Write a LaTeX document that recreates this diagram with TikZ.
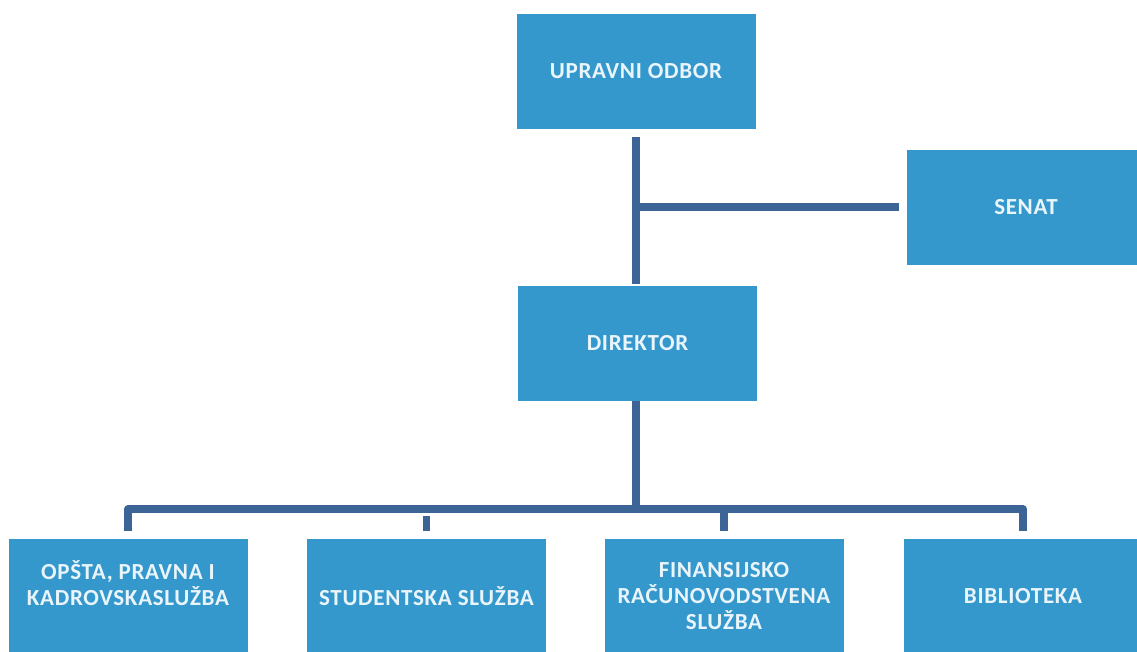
\documentclass[tikz,border=0pt]{standalone}
\usepackage{fontspec}
\setmainfont{Carlito}
\newfontfamily\boxfont[LetterSpace=3]{Carlito}
\definecolor{boxblue}{HTML}{3598CD}
\definecolor{linkblue}{HTML}{3C6496}
\definecolor{boxtext}{HTML}{EAF5FB}
\begin{document}
\begin{tikzpicture}[x=1pt,y=-1pt,
  orgbox/.style={rectangle, fill=boxblue, minimum width=239pt, minimum height=115pt,
    inner sep=0pt, text=boxtext, align=center,
    font=\boxfont\bfseries\fontsize{23}{26}\selectfont},
  conn/.style={draw=linkblue, line width=7.5pt, line join=round}]
\clip (0,0) rectangle (1137,651);
\fill[white] (0,0) rectangle (1137,651);
% boxes
\node[orgbox] (upravni) at (636,71.5) {UPRAVNI ODBOR};
\node[orgbox] (senat) at (1026,207) {SENAT};
\node[orgbox] (director) at (637.5,343.5) {DIREKTOR};
\node[orgbox] (b1) at (128,596.5) {OPŠTA, PRAVNA I\\KADROVSKASLUŽBA\\\mbox{}};
\node[orgbox] (b2) at (426.5,596.5) {STUDENTSKA SLUŽBA};
\node[orgbox] (b3) at (724,596.5) {FINANSIJSKO\\RAČUNOVODSTVENA\\SLUŽBA};
\node[orgbox] (b4) at (1023,596.5) {BIBLIOTEKA};
% junctions
\coordinate (top) at (636,137);
\coordinate (dirtop) at (636,284);
\coordinate (sj) at (636,207);
\coordinate (se) at ([xshift=-7pt]senat.west);
\coordinate (dbot) at (636,401);
\coordinate (bus) at (636,509);
\coordinate (d1) at ([yshift=8pt]b1.north);
\coordinate (d2) at ([yshift=8pt]b2.north);
\coordinate (d3) at ([yshift=8pt]b3.north);
\coordinate (d4) at ([yshift=8pt]b4.north);
% connectors
\draw[conn] (top) -- (dirtop);
\draw[conn] (sj) -- (se);
\draw[conn] (dbot) -- (bus);
\draw[conn] (d1) -- (d1 |- bus) -- (d4 |- bus) -- (d4);
\draw[conn] (d2) -- ([yshift=-7pt]d2 |- bus);
\draw[conn] (d3) -- (d3 |- bus);
\end{tikzpicture}
\end{document}
